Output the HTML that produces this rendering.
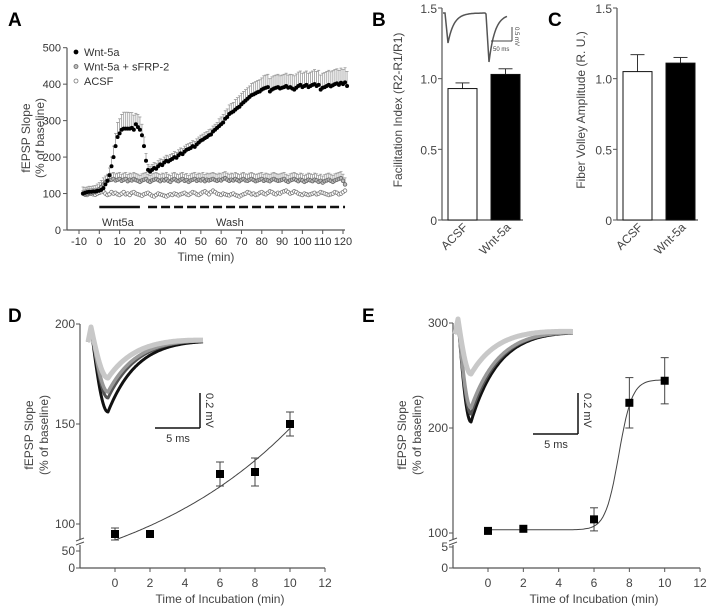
<!DOCTYPE html>
<html><head><meta charset="utf-8"><style>
html,body{margin:0;padding:0;background:#fff;}
svg{display:block;font-family:"Liberation Sans",Arial,sans-serif;}
.t{fill:#333;font-size:11px;}
.lab{fill:#444;font-size:12px;}
.pl{font-family:"Liberation Sans",sans-serif;font-weight:bold;font-size:19px;fill:#000;}
</style></head><body>
<svg id="fig" width="708" height="612" viewBox="0 0 708 612"></svg>
<script>
// ---------- Panel A data ----------
const aStart = -8;
const aWnt = [100,102,104,105,105,106,106,107,
108,110,115,125,135,150,175,200,230,255,
265,275,278,278,278,278,280,275,290,282,275,
260,230,190,165,160,165,170,168,175,180,
178,185,190,188,192,195,200,198,205,210,
208,215,220,222,225,230,228,235,240,245,
248,252,255,260,262,270,275,280,285,290,
295,305,310,318,322,325,330,335,338,345,
350,355,360,365,370,372,375,378,380,385,
388,390,392,380,385,388,390,392,388,390,
392,395,390,392,388,385,390,395,398,392,
395,398,392,395,398,400,395,398,385,390,
392,395,398,394,397,400,402,398,404,400,405,395];
const aWntErr = [8,8,8,8,8,8,8,8,8,8,10,12,15,20,25,30,35,40,40,42,45,45,45,44,42,40,30,35,35,30,25,20,15,15,15,15,15,15,15,15,15,15,15,15,15,15,15,15,15,15,15,15,15,15,15,15,15,15,15,15,15,15,15,15,15,15,15,20,20,22,22,22,25,25,25,28,28,30,30,30,30,30,30,32,32,32,32,32,32,35,35,35,35,35,35,35,35,35,35,35,35,35,35,38,38,38,38,38,38,38,38,38,38,38,40,40,40,40,40,40,40,40,40,40,40,40,40,40,40,40];
const aSfrp = [100,98,100,102,101,103,104,108,
112,118,125,130,135,137,138,140,136,138,
140,135,138,140,134,138,136,140,137,135,
132,136,138,140,135,132,136,138,140,137,
134,138,136,140,135,132,138,140,136,134,
138,140,135,137,132,136,138,140,135,138,
136,140,134,138,136,138,140,137,135,138,
136,140,142,138,135,138,136,140,137,134,
138,140,136,135,138,140,137,134,136,138,
140,135,138,136,134,138,140,137,135,136,
138,140,135,132,136,138,140,137,134,138,
136,132,135,138,136,134,138,136,132,135,
130,134,136,138,135,132,136,138,140,142,135,125];
const aSfrpErr = 18;
const aAcsf = [100,97,96,99,100,98,97,100,
102,104,106,100,96,98,104,100,102,98,
96,100,104,98,100,96,102,104,100,98,
96,94,98,100,102,98,94,92,96,100,
98,96,94,92,95,98,96,100,98,95,
98,100,102,98,96,100,104,102,98,96,
100,104,106,102,98,104,108,104,100,98,
96,100,98,96,95,98,100,96,94,92,
95,98,100,104,102,98,100,96,98,102,
104,100,98,102,106,104,100,98,102,100,
104,106,108,104,100,102,106,104,100,98,
96,100,98,96,98,100,102,98,100,104,
102,100,98,96,98,100,104,102,98,100,104,108];
const aYTicks = [0,100,200,300,400,500];
const aXTicks = [-10,0,10,20,30,40,50,60,70,80,90,100,110,120];

// ---------- Panel B/C data ----------
const bCats = ["ACSF","Wnt-5a"];
const bVals = [0.93,1.03];
const bErr = [0.04,0.04];
const cVals = [1.05,1.11];
const cErr = [0.12,0.04];
const bcTicks = [0,0.5,1.0,1.5];

// ---------- Panel D/E data ----------
const dX = [0,2,6,8,10];
const dY = [95,95,125,126,150];
const dErr = [3,0,6,7,6];
const dYTicks = [0,50,100,150,200];
const eX = [0,2,6,8,10];
const eY = [102,104,113,224,245];
const eErr = [0,0,11,24,22];
const eYTicks = [0,5,100,200,300];
const deXTicks = [0,2,4,6,8,10,12];

const NS="http://www.w3.org/2000/svg";
const svg=document.getElementById('fig');
function mk(tag,attrs,parent){const e=document.createElementNS(NS,tag);for(const k in attrs)e.setAttribute(k,attrs[k]);(parent||svg).appendChild(e);return e;}
function txt(x,y,s,attrs,parent){const e=mk('text',Object.assign({x:x,y:y},attrs||{}),parent);e.textContent=s;return e;}
const AX='#555';

// ===== Panel A =====
const gA=mk('g',{});


const ax=v=>79+(v+10)*264/130;
const ay=v=>230-v*182.3/500;
txt(8,26,'A',{class:'pl'},gA);
mk('line',{x1:67,y1:ay(500),x2:67,y2:230,stroke:AX,'stroke-width':1.2},gA);
mk('line',{x1:67,y1:230,x2:345,y2:230,stroke:AX,'stroke-width':1.2},gA);
aYTicks.forEach(v=>{mk('line',{x1:63,x2:67,y1:ay(v),y2:ay(v),stroke:AX},gA);const t=txt(61,ay(v)+4,String(v),{class:'t','text-anchor':'end'},gA);});
aXTicks.forEach(v=>{mk('line',{x1:ax(v),x2:ax(v),y1:230,y2:234,stroke:AX},gA);const t=txt(ax(v),245,String(v),{class:'t','text-anchor':'middle'},gA);});
const axl=txt(206,261,'Time (min)',{class:'lab','text-anchor':'middle'},gA);

const ayl=mk('g',{transform:'translate(30,138) rotate(-90)'},gA);

txt(0,0,'fEPSP Slope',{class:'lab','text-anchor':'middle'},ayl);
txt(0,14,'(% of baseline)',{class:'lab','text-anchor':'middle'},ayl);
function errA(arr,errs,col){arr.forEach((v,i)=>{const t=aStart+i;const e=(errs[i]!==undefined)?errs[i]:errs[errs.length-1];const x=ax(t);mk('line',{x1:x,x2:x,y1:ay(v),y2:ay(v+e),stroke:col,'stroke-width':0.8},gA);mk('line',{x1:x-1.5,x2:x+1.5,y1:ay(v+e),y2:ay(v+e),stroke:col,'stroke-width':0.8},gA);});}
errA(aWnt,aWntErr,'#999');
errA(aSfrp,aSfrp.map(()=>aSfrpErr),'#999');
aAcsf.forEach((v,i)=>{const c=mk('circle',{cx:ax(aStart+i),cy:ay(v),r:1.8,fill:'#fff',stroke:'#777','stroke-width':0.8},gA);});
aSfrp.forEach((v,i)=>{const c=mk('circle',{cx:ax(aStart+i),cy:ay(v),r:1.8,fill:'#bbb',stroke:'#666','stroke-width':0.8},gA);});
aWnt.forEach((v,i)=>{const c=mk('circle',{cx:ax(aStart+i),cy:ay(v),r:2,fill:'#000'},gA);});
const leg=[['Wnt-5a','#000','#000'],['Wnt-5a + sFRP-2','#bbb','#666'],['ACSF','#fff','#777']];
leg.forEach((l,i)=>{const g=mk('g',{},gA);mk('circle',{cx:76,cy:52+i*14.5,r:2,fill:l[1],stroke:l[2],'stroke-width':0.8},g);txt(84,56+i*14.5,l[0],{class:'t'},g);});
mk('line',{x1:ax(0),x2:ax(20),y1:207,y2:207,stroke:'#111','stroke-width':2.5},gA);
mk('line',{x1:ax(24),x2:ax(121),y1:207,y2:207,stroke:'#111','stroke-width':2.5,'stroke-dasharray':'9,4'},gA);
txt(102,226,'Wnt5a',{class:'t'},gA);
txt(216,226,'Wash',{class:'t'},gA);

// ===== Panels B & C =====
function barPanel(name,letter,lx,axX,x1s,vals,errs,title,tcx){
  const g=mk('g',{});
  const by=v=>220-v*212/1.5;
  txt(lx,26,letter,{class:'pl'},g);
  mk('line',{x1:axX,x2:axX,y1:by(1.5),y2:220,stroke:AX,'stroke-width':1.2},g);
  mk('line',{x1:axX,x2:x1s[1]+32,y1:220,y2:220,stroke:AX,'stroke-width':1.2},g);
  bcTicks.forEach(v=>{mk('line',{x1:axX-4,x2:axX,y1:by(v),y2:by(v),stroke:AX},g);const s=v===0?'0':v.toFixed(1);const t=txt(axX-5,by(v)+5,s,{class:'lab','text-anchor':'end','font-size':'13px'},g);});
  vals.forEach((v,i)=>{const x=x1s[i];const ex=x+14.5;
    mk('line',{x1:ex,x2:ex,y1:by(v),y2:by(v+errs[i]),stroke:'#333','stroke-width':1},g);
    mk('line',{x1:ex-7,x2:ex+7,y1:by(v+errs[i]),y2:by(v+errs[i]),stroke:'#333','stroke-width':1},g);
    const r=mk('rect',{x:x,y:by(v),width:29,height:220-by(v),fill:i===0?'#fff':'#000',stroke:'#111','stroke-width':1},g);
    
    const t=txt(0,0,bCats[i],{class:'lab','text-anchor':'end','font-size':'13px',transform:`translate(${ex+6},${228}) rotate(-45)`},g);
    
  });
  const yl=txt(0,0,title,{class:'lab','text-anchor':'middle','font-size':'14px',transform:`translate(${tcx},${110}) rotate(-90)`},g);
  
  return g;
}
const gB=barPanel('panel-b','B',372,442,[448,491],bVals,bErr,'Facilitation Index (R2-R1/R1)',402);
barPanel('panel-c','C',548,617,[623,666],cVals,cErr,'Fiber Volley Amplitude (R. U.)',585);
(function(){let d='';for(let i=0;i<=64;i++){const x=443+i;let y=13;
 const p1=x-445,p2=x-486;
 if(p1>=0&&p1<38){y=p1<3?13+p1*10:13+30*Math.exp(-(p1-3)/6);}
 if(p2>=0){y=p2<3?14+p2*16:14+48*Math.exp(-(p2-3)/6);}
 d+=(i?'L':'M')+x+','+y.toFixed(1);}
 const p=mk('path',{d:d,fill:'none',stroke:'#555','stroke-width':1.5},gB);
 mk('line',{x1:512,x2:512,y1:27,y2:41,stroke:'#444'},gB);mk('line',{x1:491,x2:512,y1:41,y2:41,stroke:'#444'},gB);
 txt(493,51,'50 ms',{fill:'#444','font-size':'6px'},gB);
 txt(0,0,'0.5 mV',{fill:'#444','font-size':'6px',transform:'translate(515,27) rotate(90)'},gB);
})();

// ===== Panels D & E =====
function linePanel(name,letter,lx,axX,yMap,yTicks,xMap,xs,ys,errs,fit,tr,traceDepths,sb){
  const g=mk('g',{});
  txt(lx,322,letter,{class:'pl'},g);
  const top=yMap(yTicks[yTicks.length-1]);
  mk('line',{x1:axX,x2:axX,y1:top,y2:540,stroke:AX,'stroke-width':1.2},g);
  mk('line',{x1:axX,x2:axX,y1:545,y2:568,stroke:AX,'stroke-width':1.2},g);
  mk('line',{x1:axX-4,x2:axX+4,y1:541,y2:538,stroke:AX},g);mk('line',{x1:axX-4,x2:axX+4,y1:545,y2:542,stroke:AX},g);
  mk('line',{x1:axX,x2:xMap(12),y1:568,y2:568,stroke:AX,'stroke-width':1.2},g);
  yTicks.forEach(v=>{mk('line',{x1:axX-4,x2:axX,y1:yMap(v),y2:yMap(v),stroke:AX},g);const t=txt(axX-5,yMap(v)+4,String(v),{class:'lab','text-anchor':'end'},g);});
  deXTicks.forEach(v=>{mk('line',{x1:xMap(v),x2:xMap(v),y1:568,y2:572,stroke:AX},g);const t=txt(xMap(v),587,String(v),{class:'lab','text-anchor':'middle'},g);});
  const xl=txt(xMap(6),603,'Time of Incubation (min)',{class:'lab','text-anchor':'middle','font-size':'13px'},g);
  
  const yl=mk('g',{transform:`translate(${axX-47},435) rotate(-90)`},g);
  
  txt(0,0,'fEPSP Slope',{class:'lab','text-anchor':'middle','font-size':'13px'},yl);
  txt(0,15,'(% of baseline)',{class:'lab','text-anchor':'middle','font-size':'13px'},yl);
  let d='';for(let i=0;i<=100;i++){const x=i/10;d+=(i?'L':'M')+xMap(x).toFixed(1)+','+yMap(fit(x)).toFixed(1);}
  const f=mk('path',{d:d,fill:'none',stroke:'#444','stroke-width':1},g);
  xs.forEach((x,i)=>{const px=xMap(x);
    if(errs[i]>0){mk('line',{x1:px,x2:px,y1:yMap(ys[i]-errs[i]),y2:yMap(ys[i]+errs[i]),stroke:'#444'},g);
      [ys[i]-errs[i],ys[i]+errs[i]].forEach(e=>mk('line',{x1:px-4,x2:px+4,y1:yMap(e),y2:yMap(e),stroke:'#444'},g));}
    const r=mk('rect',{x:px-4,y:yMap(ys[i])-4,width:8,height:8,fill:'#000'},g);});
  // traces: tr = [x0,x1,baseStart,baseEnd,troughRel,tau]
  const cols=['#111','#555','#999','#c8c8c8'];
  const widths=[3,3,3.5,5];
  traceDepths.forEach((dep,k)=>{let p='';const x0=tr[0],x1=tr[1],b0=tr[2],b1=tr[3],trough=tr[4],tau=tr[5];
    for(let x=x0;x<=x1;x+=1){const rel=x-x0;const base=b0+(b1-b0)*rel/(x1-x0);let y;
      if(rel<3)y=b0+12-rel*5;
      else if(rel<trough){const t=(rel-3)/(trough-3);y=b0-3+Math.sin(t*Math.PI/2)*(dep+3);}
      else{y=base+(b0+dep-base)*Math.exp(-(rel-trough)/tau);}
      p+=(x===x0?'M':'L')+x+','+y.toFixed(1);}
    const t=mk('path',{d:p,fill:'none',stroke:cols[k],'stroke-width':widths[k],'stroke-linejoin':'round'},g);});
  mk('line',{x1:sb[0],x2:sb[0],y1:sb[1],y2:sb[2],stroke:'#111','stroke-width':1.5},g);
  mk('line',{x1:sb[0]-45,x2:sb[0],y1:sb[2],y2:sb[2],stroke:'#111','stroke-width':1.5},g);
  txt(sb[0]-22,sb[2]+14,'5 ms',{class:'t','text-anchor':'middle'},g);
  txt(0,0,'0.2 mV',{class:'t',transform:`translate(${sb[0]+6},${sb[1]}) rotate(90)`},g);
}
const dYM=v=>v>=75?524-(v-100)*2.0:568-v*17/50;
linePanel('panel-d','D',8,80,dYM,dYTicks,v=>115+v*17.5,dX,dY,dErr,
  x=>60+32*Math.exp(0.101*x),[88,203,330,338,20,32],[82,68,62,48],[200,393,428]);
const eYM=v=>v>=75?533-(v-100)*1.05:568-v*21/5;
linePanel('panel-e','E',362,453,eYM,eYTicks,v=>488+v*17.67,eX,eY,eErr,
  x=>103+143/(1+Math.exp((7.4-x)/0.38)),[455,573,322,330,16,30],[100,92,86,52],[578,393,434]);
</script>
</body></html>
